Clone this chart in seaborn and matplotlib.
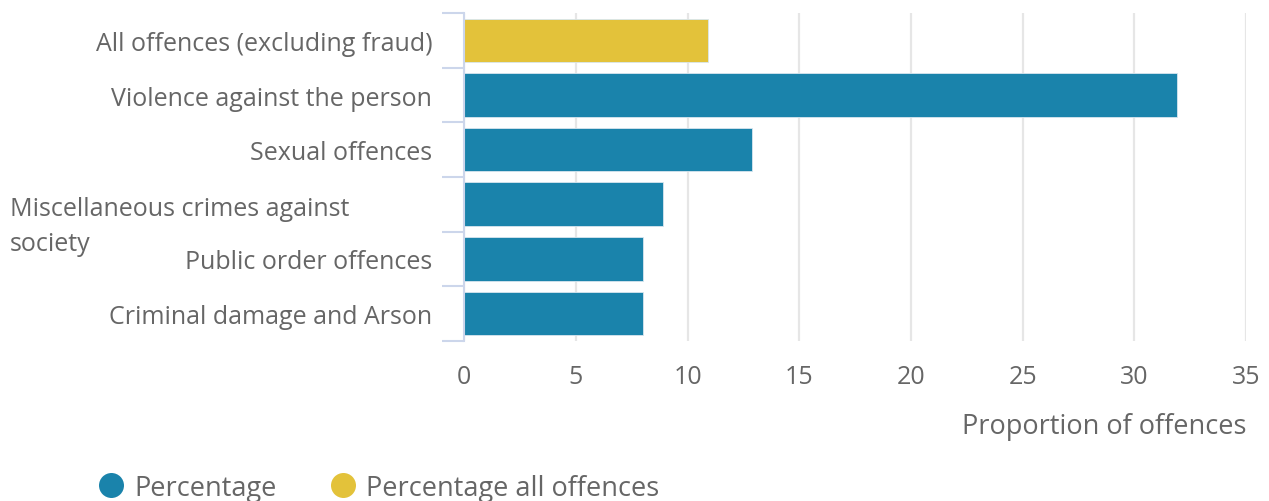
import matplotlib
matplotlib.use("Agg")
import matplotlib.pyplot as plt
import matplotlib.transforms as mtransforms
from matplotlib.lines import Line2D
import pandas as pd
import seaborn as sns

# data
categories = [
    "All offences (excluding fraud)",
    "Violence against the person",
    "Sexual offences",
    "Miscellaneous crimes against society",
    "Public order offences",
    "Criminal damage and Arson",
]
values = [10.9, 31.9, 12.9, 8.9, 8.0, 8.0]
series = ["Percentage all offences", "Percentage", "Percentage", "Percentage",
          "Percentage", "Percentage"]
x_ticks = [0, 5, 10, 15, 20, 25, 30, 35]

colors = {"Percentage": "#1a83ab", "Percentage all offences": "#e3c23a"}
text_col = "#666666"
fs = 18
fs_big = 19.5

sns.set_theme(style="white")
plt.rcParams['font.family'] = ['Open Sans', 'DejaVu Sans']

df = pd.DataFrame({"cat": categories, "val": values, "series": series})

fig = plt.figure(figsize=(12.69, 5.02), dpi=100)
ax = fig.add_axes([0.3657, 0.319, 0.982 - 0.3657, 0.972 - 0.319])

sns.barplot(data=df, y="cat", x="val", hue="series", palette=colors,
            dodge=False, width=0.8, orient="h", ax=ax, legend=False,
            edgecolor="#d8e6ef", linewidth=0.6, saturation=1, zorder=3)

ax.set_xlim(0, 35)
ax.set_ylim(len(categories) - 0.5, -0.5)
ax.set_xticks(x_ticks)
ax.grid(axis="x", color="#e6e6e6", linewidth=1.6, zorder=0)
ax.grid(axis="y", visible=False)
for s in ["top", "right", "bottom"]:
    ax.spines[s].set_visible(False)
ax.spines["left"].set_color("#ccd6eb")
ax.spines["left"].set_linewidth(1.5)
ax.spines["left"].set_zorder(4)

# category boundary ticks like the original
ax.set_yticks([i - 0.5 for i in range(len(categories) + 1)], minor=True)
ax.tick_params(axis="y", which="minor", length=16, width=1.5, color="#ccd6eb", left=True)
ax.tick_params(axis="y", which="major", length=0, pad=23, labelsize=fs, labelcolor=text_col)
ax.tick_params(axis="x", length=0, pad=17, labelsize=fs, labelcolor=text_col)

# wrapped label sits left-aligned in the original
labels = [t.get_text() for t in ax.get_yticklabels()]
idx = labels.index("Miscellaneous crimes against society")
labels[idx] = ""
ax.set_yticklabels(labels)
trans = mtransforms.blended_transform_factory(fig.transFigure, ax.transData)
ax.text(10 / 1269, idx - 0.16, "Miscellaneous crimes against\nsociety", transform=trans,
        ha="left", va="top", fontsize=fs, color=text_col, linespacing=1.55,
        clip_on=False)

ax.set_ylabel("")
ax.set_xlabel("Proportion of offences", fontsize=fs_big, color=text_col)
ax.xaxis.set_label_coords(1.0, -0.218)
ax.xaxis.label.set_ha("right")

handles = [Line2D([], [], marker="o", linestyle="", markersize=18,
                  markerfacecolor=colors[k], markeredgewidth=0) for k in colors]
fig.legend(handles, list(colors.keys()), loc="lower left", bbox_to_anchor=(0.0575, -0.05),
           ncol=2, frameon=False, fontsize=fs_big, labelcolor=text_col,
           handletextpad=0.35, columnspacing=1.95, handlelength=1.0)

fig.savefig("out.png", dpi=100)
